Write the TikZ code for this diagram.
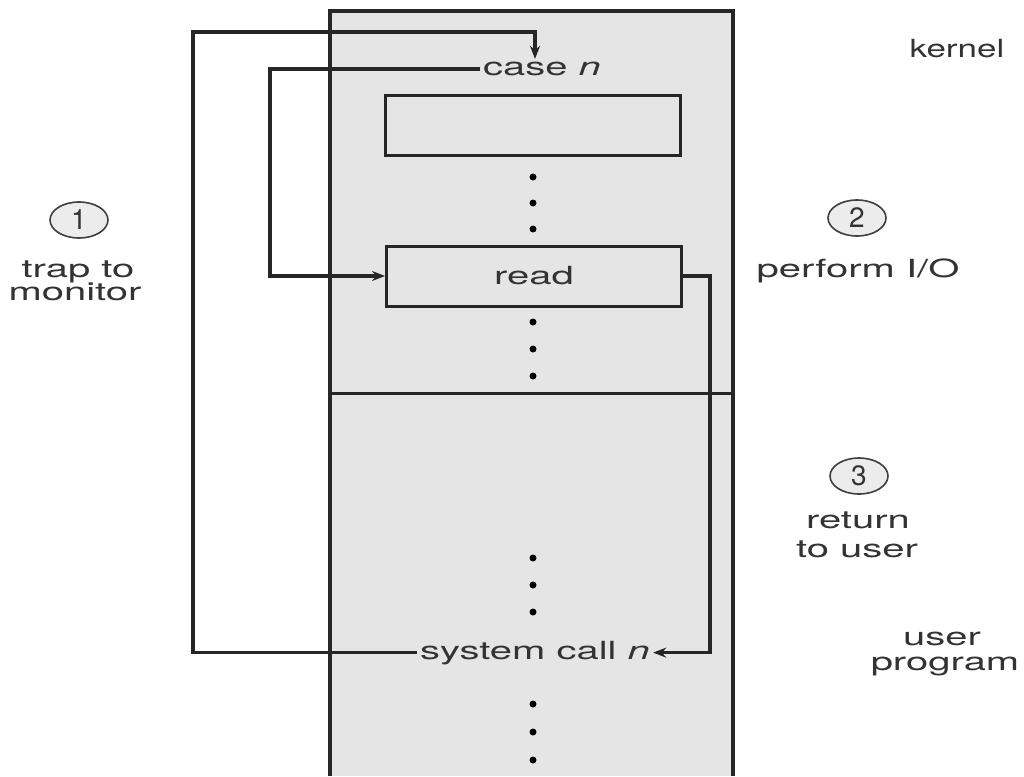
\documentclass[tikz,border=0pt]{standalone}
\usepackage{fontspec}
\setmainfont{TeX Gyre Heros}
\usepackage{graphicx}
\usetikzlibrary{arrows.meta,shapes.geometric}
\newcommand{\wtxt}[1]{\scalebox{1.6}[1]{#1}}
\tikzset{
  strokeline/.style={line width=3pt, draw=black!85},
  conn/.style={draw=black!85, line width=3.4pt, -{Stealth[length=13pt,width=10pt]}},
  lab/.style={font=\fontsize{25}{28}\selectfont, text=black!80, inner sep=0pt},
  intext/.style={font=\fontsize{25}{28}\selectfont, text=black!80, inner sep=3pt},
  num/.style={ellipse, draw=black!75, line width=1.6pt, fill=gray!15, minimum width=58pt, minimum height=36pt, inner sep=0pt, font=\fontsize{28}{30}\selectfont, text=black!80},
  boxnode/.style={draw=black!85, line width=3pt, minimum width=295pt, minimum height=60pt, inner sep=0pt},
  dotnode/.style={circle, fill=black, inner sep=0pt, minimum size=7pt}}
\begin{document}
\begin{tikzpicture}[x=1pt,y=-1pt]
\useasboundingbox (0,0) rectangle (1024,776);
% column
\fill[gray!20] (330,11) rectangle (733,776);
\draw[strokeline, line width=3.2pt] (330,776) -- (330,11) -- (733,11) -- (733,776);
\draw[strokeline] (330,393) -- (733,393);
% boxes and texts inside
\node[intext] (casen) at (542,69) {\wtxt{case \textit{n}}};
\node[boxnode] (box1) at (532.5,125) {};
\node[boxnode, intext, inner sep=0pt] (read) at (534,276) {\wtxt{read}};
\node[intext, anchor=base] (sys) at (535,659) {\wtxt{system call \textit{n}}};
% dots
\foreach \i/\y in {a/177,b/203,c/229,d/322,e/349,f/376,g/558,h/585,k/612,l/704,m/732,o/760}
  \node[dotnode] (dot\i) at (533,\y) {};
% connectors
\coordinate (tl) at (193,32);
\coordinate (tr) at (535,32);
\coordinate (ix) at (270,69);
\coordinate (rx) at (710,279);
\draw[conn, line width=3.4pt] (sys.west) -| (tl) -- (tr) -- (tr |- casen.north);
\draw[conn, line width=3.4pt] (casen.west) -| (ix |- read.west) -- (read.west);
\draw[conn, line width=3.4pt] (read.east) -| (rx |- sys.west) -- (sys.east |- sys.west);
% side labels
\node[lab, anchor=base] (kern) at (957,58) {\scalebox{1.4}[1]{kernel}};
\node[num] (n1) at (79,220) {1};
\node[lab, anchor=base] (t1a) at (78,277) {\wtxt{trap to}};
\node[lab, anchor=base] (t1b) at (75,300) {\wtxt{monitor}};
\node[num] (n2) at (857,218) {2};
\node[lab, anchor=base] (t2) at (858,277) {\wtxt{perform I/O}};
\node[num] (n3) at (859,476) {3};
\node[lab, anchor=base] (t3a) at (858,528) {\wtxt{return}};
\node[lab, anchor=base] (t3b) at (857,557) {\wtxt{to user}};
\node[lab, anchor=base] (u1) at (942,645) {\wtxt{user}};
\node[lab, anchor=base] (u2) at (945,670) {\wtxt{program}};
\end{tikzpicture}
\end{document}
